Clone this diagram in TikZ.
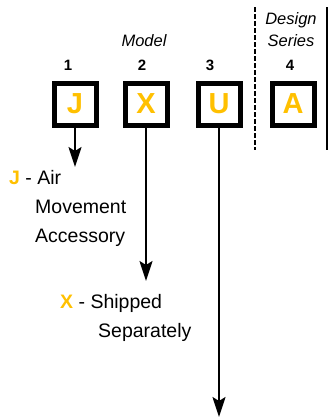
\documentclass[tikz,border=0pt]{standalone}
\usepackage{fontspec}
\setmainfont{Liberation Sans}
\usepackage{tikz}
\usepackage{xcolor}
\usetikzlibrary{arrows.meta}
\definecolor{codeyellow}{HTML}{FFC000}

\begin{document}
\begin{tikzpicture}[x=1pt,y=-1pt,
  codebox/.style={draw=black,line width=5pt,fill=white,minimum size=42pt,inner sep=0pt,
    text=codeyellow,font=\fontsize{29}{29}\selectfont\bfseries},
  posnum/.style={anchor=base,font=\fontsize{15}{15}\selectfont\bfseries},
  head/.style={anchor=base,font=\fontsize{16.5}{16.5}\selectfont\itshape},
  desc/.style={anchor=base west,inner sep=0pt,font=\fontsize{19.5}{29}\selectfont},
  pointer/.style={line width=2pt,-{Stealth[length=20pt,width=13pt,inset=4pt]}}]
\useasboundingbox (0,0) rectangle (328,418);
\node[head] (model) at (144,46) {Model};
\node[head] (design) at (291,24) {Design};
\node[head] (series) at (291,46) {Series};
\node[posnum] (num1) at (68,70) {1};
\node[posnum] (num2) at (142,70) {2};
\node[posnum] (num3) at (210,70) {3};
\node[posnum] (num4) at (290,70) {4};
\node[codebox] (boxJ) at (75,104) {J};
\node[codebox] (boxX) at (146,104) {X};
\node[codebox] (boxU) at (219,104) {U};
\node[codebox] (boxA) at (293,104) {A};
\draw[line width=2pt,dash pattern=on 4.5pt off 2.5pt] (255,7) -- (255,150);
\draw[line width=2pt] (326.5,7) -- (326.5,150);
\coordinate (tipJ) at (75,167);
\coordinate (tipX) at (146,281);
\coordinate (tipU) at (219,417);
\draw[pointer] (boxJ.south) -- (tipJ);
\draw[pointer] (boxX.south) -- (tipX);
\draw[pointer] (boxU.south) -- (tipU);
\node[desc] (descJ) at (9,184) {\textcolor{codeyellow}{\bfseries J} - Air};
\node[desc] (descJb) at (35,213) {Movement};
\node[desc] (descJc) at (35,242) {Accessory};
\node[desc] (descX) at (60,308) {\textcolor{codeyellow}{\bfseries X} - Shipped};
\node[desc] (descXb) at (98,337) {Separately};
\end{tikzpicture}
\end{document}
